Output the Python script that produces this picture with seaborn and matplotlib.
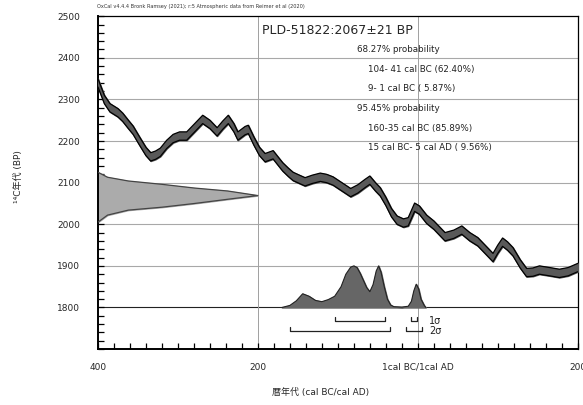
import numpy as np
import pandas as pd
import seaborn as sns
import matplotlib.pyplot as plt
from matplotlib.ticker import MultipleLocator, FixedLocator

# calibration curve (IntCal20), centre of band; BC negative
cal_year = [-400, -392, -385, -375, -369, -362, -356, -348, -340, -334, -328, -322,
            -314, -306, -298, -289, -280, -269, -260, -251, -244, -237, -230, -225,
            -216, -212, -205, -198, -191, -181, -174, -169, -162, -156, -148, -141,
            -132, -122, -114, -106, -95, -84, -75, -66, -60, -53, -47, -40, -33,
            -26, -18, -12, -4, 2, 11, 20, 27, 34, 45, 55, 65, 75, 84, 94, 100, 106,
            112, 119, 128, 136, 144, 152, 165, 177, 188, 200]
cal_bp = [2340, 2300, 2280, 2268, 2257, 2240, 2226, 2200, 2175, 2162, 2166, 2173,
          2192, 2206, 2212, 2212, 2230, 2252, 2240, 2222, 2238, 2252, 2232, 2212,
          2225, 2228, 2200, 2175, 2160, 2167, 2150, 2138, 2125, 2115, 2108, 2102,
          2108, 2113, 2110, 2104, 2090, 2076, 2085, 2098, 2106, 2090, 2078, 2055, 2028,
          2010, 2003, 2006, 2041, 2034, 2012, 1998, 1984, 1970, 1976, 1986, 1970, 1958,
          1940, 1920, 1940, 1957, 1948, 1934, 1905, 1884, 1885, 1890, 1886, 1882,
          1886, 1896]
cal_err = 10

# measured radiocarbon age profile (BP, drawn width in years)
meas_bp = [2125, 2113, 2104, 2096, 2087, 2080, 2069, 2060, 2050, 2041, 2034, 2022, 2005]
meas_w = [0, 12, 38, 80, 121, 162, 200, 162, 121, 80, 38, 12, 0]

# calibrated probability (relative height)
post_year = [-170, -160, -152, -144, -136, -128, -120, -112, -104, -96, -90, -84, -80,
             -76, -72, -68, -64, -60, -56, -52, -49, -46, -42, -38, -34, -30, -20,
             -12, -8, -5, -2, 1, 4, 8, 10]
post_p = [0, 0.05, 0.16, 0.33, 0.27, 0.17, 0.14, 0.19, 0.27, 0.5, 0.8, 0.97, 1.0,
          0.96, 0.82, 0.65, 0.48, 0.38, 0.55, 0.88, 1.0, 0.85, 0.5, 0.2, 0.06, 0.02,
          0.01, 0.03, 0.15, 0.4, 0.56, 0.45, 0.2, 0.05, 0]

sig1 = [(-104, -41), (-9, -1)]
sig2 = [(-160, -35), (-15, 5)]

lines = ["68.27% probability", "104- 41 cal BC (62.40%)", "9- 1 cal BC ( 5.87%)",
         "95.45% probability", "160-35 cal BC (85.89%)", "15 cal BC- 5 cal AD ( 9.56%)"]

sns.set_style("ticks")
plt.rcParams['font.family'] = ['DejaVu Sans', 'Noto Sans CJK JP']

fig = plt.figure(figsize=(5.83, 4.05), dpi=100)
ax = fig.add_axes([0.168, 0.138, 0.823, 0.822])

for v in range(1800, 2500, 100):
    ax.axhline(v, color='#a8a8a8' if v > 1800 else '#222222', lw=0.8, zorder=0)
for v in (-200, 0):
    ax.axvline(v, color='#a0a0a0', lw=0.7, zorder=0)

# measurement
mdf = pd.DataFrame({'bp': meas_bp, 'w': meas_w})
mdf['x'] = -400 + mdf['w']
ax.fill_betweenx(mdf['bp'], -400, mdf['x'], color='#ababab', zorder=2)
sns.lineplot(data=mdf, x='x', y='bp', sort=False, color='#444444', lw=0.9, ax=ax,
             zorder=3, estimator=None)

# calibration curve
cdf = pd.DataFrame({'year': cal_year, 'bp': cal_bp})
cdf['lo'] = cdf['bp'] - cal_err
cdf['hi'] = cdf['bp'] + cal_err
ax.fill_between(cdf['year'], cdf['lo'], cdf['hi'], color='#595959', zorder=4)
sns.lineplot(data=cdf, x='year', y='lo', color='black', lw=0.9, ax=ax, zorder=5)
sns.lineplot(data=cdf, x='year', y='hi', color='black', lw=0.9, ax=ax, zorder=5)

# posterior
pdf = pd.DataFrame({'year': post_year, 'p': post_p})
pdf['h'] = 1800 + pdf['p'] * 100
ax.fill_between(pdf['year'], 1800, pdf['h'], color='#666666', zorder=4)
sns.lineplot(data=pdf, x='year', y='h', color='#222222', lw=0.8, ax=ax, zorder=5)

# sigma ranges
for rows, yb in ((sig1, 1767), (sig2, 1743)):
    for a, b in rows:
        ax.plot([a, a, b, b], [yb + 11, yb, yb, yb + 11], color='#222222', lw=0.9)
ax.text(14, 1767, "1σ", fontsize=7, va='center', color='#222222')
ax.text(14, 1743, "2σ", fontsize=7, va='center', color='#222222')

ax.text(-195, 2466, "PLD-51822:2067±21 BP", fontsize=9, va='center')
ys = [2421, 2373, 2327, 2279, 2231, 2185]
for t, yv in zip(lines, ys):
    xv = -76 if 'probability' in t else -62
    ax.text(xv, yv, t, fontsize=6.3, va='center', color='#222222')

ax.set_xlim(-400, 200)
ax.set_ylim(1700, 2500)
ax.xaxis.set_major_locator(FixedLocator([-400, -200, 0, 200]))
ax.set_xticklabels(["400", "200", "1cal BC/1cal AD", "200"])
ax.xaxis.set_minor_locator(MultipleLocator(20))
ax.yaxis.set_major_locator(FixedLocator(list(range(1800, 2600, 100))))
ax.yaxis.set_minor_locator(MultipleLocator(20))
ax.tick_params(which='both', direction='in', length=4, width=0.9, color='black')
ax.tick_params(axis='y', which='both', pad=13, labelsize=6.5)
ax.tick_params(axis='x', which='both', pad=10, labelsize=6.5)
ax.set_xlabel("")
ax.set_ylabel("")
for s in ax.spines.values():
    s.set_visible(True)
    s.set_color('black')
    s.set_linewidth(0.9)
ax.spines['bottom'].set_linewidth(1.4)
ax.spines['left'].set_linewidth(1.4)

fig.text(0.166, 0.985, "OxCal v4.4.4 Bronk Ramsey (2021); r:5 Atmospheric data from Reimer et al (2020)",
         fontsize=3.6, va='center', color='#333333')
fig.text(0.031, 0.563, "¹⁴C年代 (BP)", rotation=90, fontsize=6.5, ha='center', va='center')
fig.text(0.549, 0.032, "暦年代 (cal BC/cal AD)", fontsize=6.5, ha='center', va='center')

fig.savefig('out.png', dpi=100)
